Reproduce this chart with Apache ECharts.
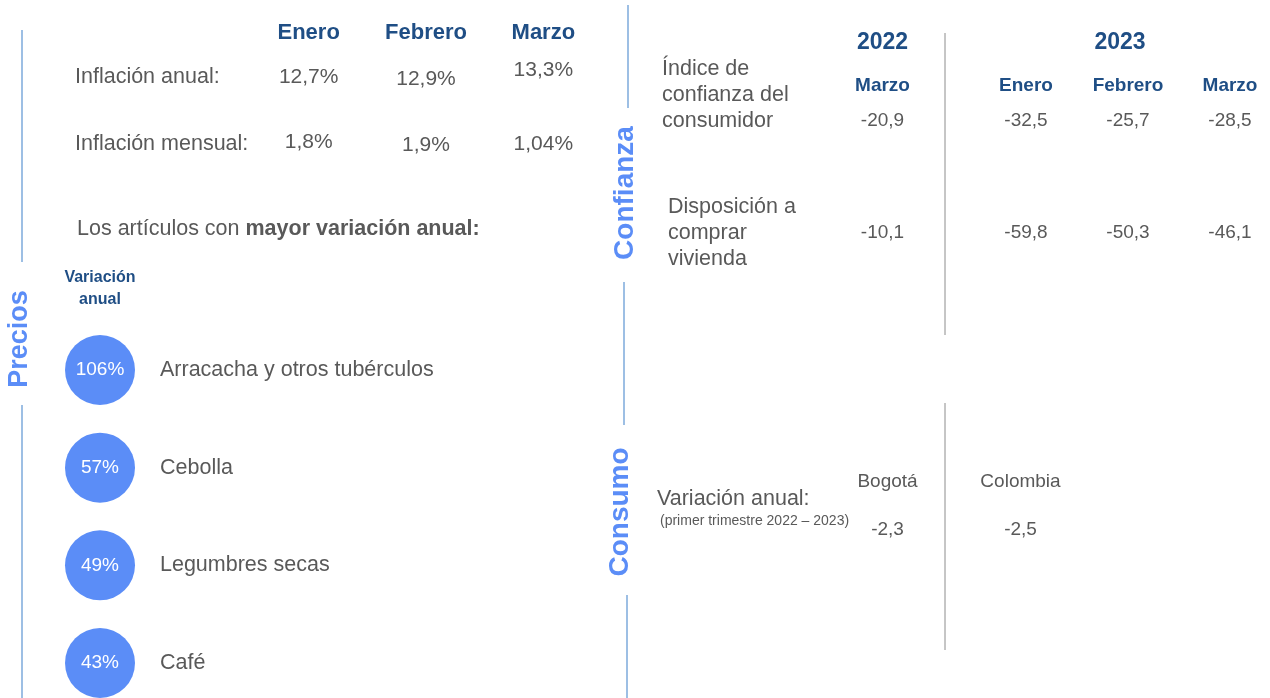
<!DOCTYPE html>
<html>
<head>
<meta charset="utf-8">
<script src="https://cdn.jsdelivr.net/npm/echarts@6/dist/echarts.min.js"></script>
<style>html,body{margin:0;padding:0;background:#fff}#c{width:1270px;height:698px}</style>
</head>
<body>
<div id="c"></div>
<script>
// ---- data ----
const inflMonths = ['Enero', 'Febrero', 'Marzo'];
const inflRows = ['Inflación anual:', 'Inflación mensual:'];
const inflAnual = [12.7, 12.9, 13.3];
const inflMensual = [1.8, 1.9, 1.04];

const itemsHeader = 'Variación\nanual';
const items = ['Arracacha y otros tubérculos', 'Cebolla', 'Legumbres secas', 'Café'];
const itemVar = [106, 57, 49, 43];

const confRows = ['Índice de\nconfianza del\nconsumidor', 'Disposición a\ncomprar\nvivienda'];
const confYears = ['2022', '2023'];
const conf2022Months = ['Marzo'];
const conf2023Months = ['Enero', 'Febrero', 'Marzo'];
const indiceConf2022 = [-20.9];
const indiceConf2023 = [-32.5, -25.7, -28.5];
const dispViv2022 = [-10.1];
const dispViv2023 = [-59.8, -50.3, -46.1];

const consumoRow = 'Variación anual:';
const consumoSub = '(primer trimestre 2022 – 2023)';
const consumoRegions = ['Bogotá', 'Colombia'];
const consumoVar = [-2.3, -2.5];

const sections = ['Precios', 'Confianza', 'Consumo'];
const articlesIntro = ['Los artículos con ', 'mayor variación anual:'];

// ---- style / layout ----
const FF = '"Liberation Sans", Arial, Helvetica, sans-serif';
const GRAY = '#595959';
const NAVY = '#1F4E85';
const BLUE = '#5B8DF7';
const BAR = '#9DBFE4';
const SEP = '#8C8C8C';
const fmt = v => String(v).replace('.', ',');
const hidden = {axisLine: {show: false}, axisTick: {show: false}, splitLine: {show: false}};
const clear = {color: 'rgba(0,0,0,0)', opacity: 1};
// small vertical label nudges for the inflation table cells (layout only)
const inflNudge = [[0, 2, -7], [-2, 1, 0]];

const chart = echarts.init(document.getElementById('c'), null, {renderer: 'canvas'});

function inflItem(c, r, v) {
  return {value: [c, r, v], label: {offset: [0, inflNudge[r][c]]}};
}
const inflData = inflAnual.map((v, c) => inflItem(c, 0, v)).concat(inflMensual.map((v, c) => inflItem(c, 1, v)));
const bubbleData = itemVar.map((v, i) => [0, i, v]);
const conf22Data = indiceConf2022.map((v, c) => [c, 0, v]).concat(dispViv2022.map((v, c) => [c, 1, v]));
const conf23Data = indiceConf2023.map((v, c) => [c, 0, v]).concat(dispViv2023.map((v, c) => [c, 1, v]));
const consumoData = consumoVar.map((v, c) => [c, 0, v]);

const valLabel = (size, color, f) => ({show: true, position: 'inside', formatter: f, fontSize: size, color: color, fontFamily: FF});

const option = {
  animation: false,
  backgroundColor: '#fff',
  textStyle: {fontFamily: FF},
  grid: [
    {left: 250, top: 43.5, width: 352, height: 134},
    {left: 65, top: 370, width: 70, height: 293},
    {left: 835, top: 121, width: 95, height: 112},
    {left: 1026, top: 121, width: 204, height: 112},
    {left: 821, top: 505, width: 266, height: 50}
  ],
  xAxis: [
    Object.assign({gridIndex: 0, type: 'category', position: 'top', data: inflMonths,
      axisLabel: {fontSize: 22, fontWeight: 'bold', color: NAVY, margin: 0, fontFamily: FF}}, hidden),
    Object.assign({gridIndex: 1, type: 'category', position: 'top', data: [itemsHeader],
      axisLabel: {fontSize: 16, fontWeight: 'bold', color: NAVY, margin: 59, lineHeight: 22, fontFamily: FF}}, hidden),
    Object.assign({gridIndex: 2, type: 'category', position: 'top', data: conf2022Months,
      name: confYears[0], nameLocation: 'middle', nameGap: 67,
      nameTextStyle: {fontSize: 23, fontWeight: 'bold', color: NAVY, fontFamily: FF},
      axisLabel: {fontSize: 19, fontWeight: 'bold', color: NAVY, margin: 26, fontFamily: FF}}, hidden),
    Object.assign({gridIndex: 3, type: 'category', position: 'top', boundaryGap: false, data: conf2023Months,
      name: confYears[1], nameLocation: 'middle', nameGap: 67,
      nameTextStyle: {fontSize: 23, fontWeight: 'bold', color: NAVY, fontFamily: FF, padding: [0, 16, 0, 0]},
      axisLabel: {fontSize: 19, fontWeight: 'bold', color: NAVY, margin: 26, fontFamily: FF}}, hidden),
    Object.assign({gridIndex: 4, type: 'category', position: 'top', data: consumoRegions,
      axisLabel: {fontSize: 19, color: GRAY, margin: 14, fontFamily: FF}}, hidden)
  ],
  yAxis: [
    Object.assign({gridIndex: 0, type: 'category', inverse: true, data: inflRows,
      axisLabel: {align: 'left', margin: 175, fontSize: 21.5, color: GRAY, fontFamily: FF}}, hidden),
    Object.assign({gridIndex: 1, type: 'category', inverse: true, boundaryGap: false, position: 'right', data: items,
      axisLabel: {margin: 25, fontSize: 21.5, color: GRAY, fontFamily: FF}}, hidden),
    Object.assign({gridIndex: 2, type: 'category', inverse: true, boundaryGap: false, data: confRows,
      axisLabel: {align: 'left', margin: 173, fontSize: 21.5, lineHeight: 26, color: GRAY, fontFamily: FF,
        formatter: (v, i) => i === 0 ? v + '\n\n' : v.split('\n').map(s => ' ' + s).join('\n')}}, hidden),
    Object.assign({gridIndex: 3, type: 'category', inverse: true, boundaryGap: false, data: confRows,
      axisLabel: {show: false}}, hidden),
    Object.assign({gridIndex: 4, type: 'category', inverse: true, data: [consumoRow],
      axisLabel: {align: 'left', margin: 164, padding: [0, 0, 42, 0],
        formatter: v => '{a|' + v + '}\n{b|' + consumoSub + '}',
        rich: {
          a: {fontSize: 21.5, color: GRAY, lineHeight: 24, fontFamily: FF},
          b: {fontSize: 14, color: GRAY, lineHeight: 20, padding: [0, 0, 0, 3], fontFamily: FF}
        }}}, hidden)
  ],
  series: [
    {type: 'scatter', xAxisIndex: 0, yAxisIndex: 0, symbolSize: 1, itemStyle: clear, silent: true,
      data: inflData, label: valLabel(21, GRAY, p => fmt(p.value[2]) + '%')},
    {type: 'scatter', xAxisIndex: 1, yAxisIndex: 1, symbolSize: 70, itemStyle: {color: BLUE, opacity: 1}, silent: true,
      data: bubbleData, label: valLabel(19, '#fff', p => p.value[2] + '%')},
    {type: 'scatter', xAxisIndex: 2, yAxisIndex: 2, symbolSize: 1, itemStyle: clear, silent: true,
      data: conf22Data, label: valLabel(19, GRAY, p => fmt(p.value[2]))},
    {type: 'scatter', xAxisIndex: 3, yAxisIndex: 3, symbolSize: 1, itemStyle: clear, silent: true,
      data: conf23Data, label: valLabel(19, GRAY, p => fmt(p.value[2]))},
    {type: 'scatter', xAxisIndex: 4, yAxisIndex: 4, symbolSize: 1, itemStyle: clear, silent: true,
      data: consumoData, label: valLabel(19, GRAY, p => fmt(p.value[2]))}
  ],
  graphic: [
    {type: 'line', shape: {x1: 22, y1: 30, x2: 22, y2: 262}, style: {stroke: BAR, lineWidth: 2}},
    {type: 'line', shape: {x1: 22, y1: 405, x2: 22, y2: 698}, style: {stroke: BAR, lineWidth: 2}},
    {type: 'line', shape: {x1: 628, y1: 5, x2: 628, y2: 108}, style: {stroke: BAR, lineWidth: 2}},
    {type: 'line', shape: {x1: 624, y1: 282, x2: 624, y2: 425}, style: {stroke: BAR, lineWidth: 2}},
    {type: 'line', shape: {x1: 627, y1: 595, x2: 627, y2: 698}, style: {stroke: BAR, lineWidth: 2}},
    {type: 'line', shape: {x1: 945, y1: 33, x2: 945, y2: 335}, style: {stroke: SEP, lineWidth: 1}},
    {type: 'line', shape: {x1: 945, y1: 403, x2: 945, y2: 650}, style: {stroke: SEP, lineWidth: 1}},
    {type: 'text', x: 20, y: 339, rotation: Math.PI / 2,
      style: {text: sections[0], fontSize: 27, fontWeight: 'bold', fill: BLUE, align: 'center', verticalAlign: 'middle', fontFamily: FF}},
    {type: 'text', x: 625, y: 193, rotation: Math.PI / 2,
      style: {text: sections[1], fontSize: 28, fontWeight: 'bold', fill: BLUE, align: 'center', verticalAlign: 'middle', fontFamily: FF}},
    {type: 'text', x: 620, y: 512, rotation: Math.PI / 2,
      style: {text: sections[2], fontSize: 28, fontWeight: 'bold', fill: BLUE, align: 'center', verticalAlign: 'middle', fontFamily: FF}},
    {type: 'text', x: 77, y: 229,
      style: {text: '{n|' + articlesIntro[0] + '}{b|' + articlesIntro[1] + '}', verticalAlign: 'middle', align: 'left',
        rich: {n: {fontSize: 21.5, fill: GRAY, fontFamily: FF}, b: {fontSize: 21.5, fontWeight: 'bold', fill: GRAY, fontFamily: FF}}}}
  ]
};
chart.setOption(option);
</script>
</body>
</html>
